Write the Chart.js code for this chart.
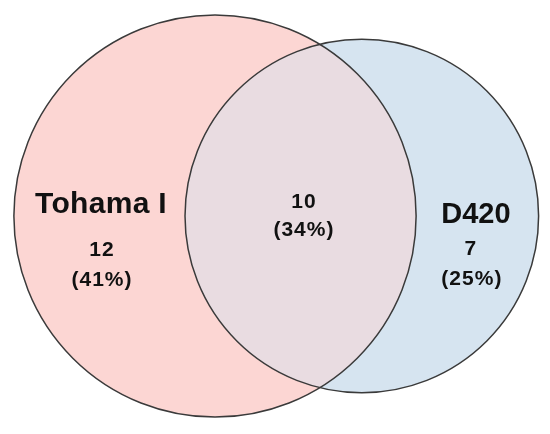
<!DOCTYPE html>
<html>
<head>
<meta charset="utf-8">
<script src="https://cdn.jsdelivr.net/npm/chart.js@4.4.1/dist/chart.umd.min.js"></script>
<style>
    html, body { margin: 0; padding: 0; background: #fff; }
    #wrap { width: 550px; height: 434px; position: relative; }
</style>
</head>
<body>
<div id="wrap"><canvas id="venn"></canvas></div>
<script>
// Дані
const setNames = ["Tohama I", "D420"];
const onlyCounts = [12, 7];
const onlyPercents = ["(41%)", "(25%)"];
const sharedCount = 10;
const sharedPercent = "(34%)";

// Стиль
const fills = ["#fcd6d3", "#d6e4f0"];
const bothFill = "#e9dce1";
const edge = "#3a3a3a";
const font = "'Liberation Sans', Arial, sans-serif";
const pxPerUnit = 76;

// площа кола = розмір множини
const setSizes = onlyCounts.map(n => n + sharedCount);
const radii = setSizes.map(n => Math.sqrt(n / Math.PI));

function lensArea(r1, r2, d) {
    const a1 = Math.acos((d * d + r1 * r1 - r2 * r2) / (2 * d * r1));
    const a2 = Math.acos((d * d + r2 * r2 - r1 * r1) / (2 * d * r2));
    return r1 * r1 * (a1 - Math.sin(a1) * Math.cos(a1)) +
           r2 * r2 * (a2 - Math.sin(a2) * Math.cos(a2));
}

// відстань між центрами, щоб перетин мав площу sharedCount
let lo = Math.abs(radii[0] - radii[1]) + 1e-6;
let hi = radii[0] + radii[1] - 1e-6;
for (let i = 0; i < 60; i++) {
    const mid = (lo + hi) / 2;
    if (lensArea(radii[0], radii[1], mid) > sharedCount) lo = mid; else hi = mid;
}
const centers = [0, (lo + hi) / 2];

// підписи: x у одиницях даних, зсув y у пікселях
const labelX = [-1.5, 3.38];
const sharedX = 1.17;

const vennPlugin = {
    id: "venn",
    beforeDatasetsDraw(chart) {
        const { ctx, scales: { x, y } } = chart;
        const pts = centers.map((cx, i) => ({
            px: x.getPixelForValue(cx),
            py: y.getPixelForValue(0),
            pr: x.getPixelForValue(cx + radii[i]) - x.getPixelForValue(cx)
        }));
        const circle = p => {
            ctx.beginPath();
            ctx.arc(p.px, p.py, p.pr, 0, Math.PI * 2);
        };

        ctx.save();
        pts.forEach((p, i) => {
            circle(p);
            ctx.fillStyle = fills[i];
            ctx.fill();
        });
        ctx.save();
        circle(pts[0]);
        ctx.clip();
        circle(pts[1]);
        ctx.fillStyle = bothFill;
        ctx.fill();
        ctx.restore();

        ctx.strokeStyle = edge;
        ctx.lineWidth = 1.5;
        pts.forEach(p => { circle(p); ctx.stroke(); });

        // текст
        ctx.fillStyle = "#111";
        ctx.textAlign = "center";
        ctx.textBaseline = "middle";
        const cy = y.getPixelForValue(0);
        const put = (txt, dx, shift, dy, size, spacing) => {
            ctx.font = "bold " + size + "px " + font;
            ctx.letterSpacing = spacing;
            ctx.fillText(txt, x.getPixelForValue(dx) + shift, cy + dy);
        };
        put(setNames[0], labelX[0], 0, -11, 30, "0.3px");
        put(String(onlyCounts[0]), labelX[0], 1, 34, 21, "1px");
        put(onlyPercents[0], labelX[0], 1, 64, 21, "1px");

        put(String(sharedCount), sharedX, 0, -14, 21, "1px");
        put(sharedPercent, sharedX, 0, 14, 21, "1px");

        put(setNames[1], labelX[1], 4, -1, 29, "0px");
        put(String(onlyCounts[1]), labelX[1], -1, 33, 21, "1px");
        put(onlyPercents[1], labelX[1], 0, 63, 21, "1px");
        ctx.restore();
    }
};

const xMin = -215 / pxPerUnit;
const yMax = 216 / pxPerUnit;

new Chart(document.getElementById("venn"), {
    type: "scatter",
    data: {
        datasets: [{
            data: centers.map(cx => ({ x: cx, y: 0 })),
            pointRadius: 0,
            pointHoverRadius: 0,
            pointBorderWidth: 0,
            borderWidth: 0,
            clip: false
        }]
    },
    options: {
        responsive: true,
        maintainAspectRatio: false,
        animation: false,
        layout: { padding: 0 },
        plugins: { legend: { display: false }, tooltip: { enabled: false } },
        events: [],
        scales: {
            x: { type: "linear", display: false, min: xMin, max: xMin + 550 / pxPerUnit },
            y: { type: "linear", display: false, min: yMax - 434 / pxPerUnit, max: yMax }
        }
    },
    plugins: [vennPlugin]
});
</script>
</body>
</html>
